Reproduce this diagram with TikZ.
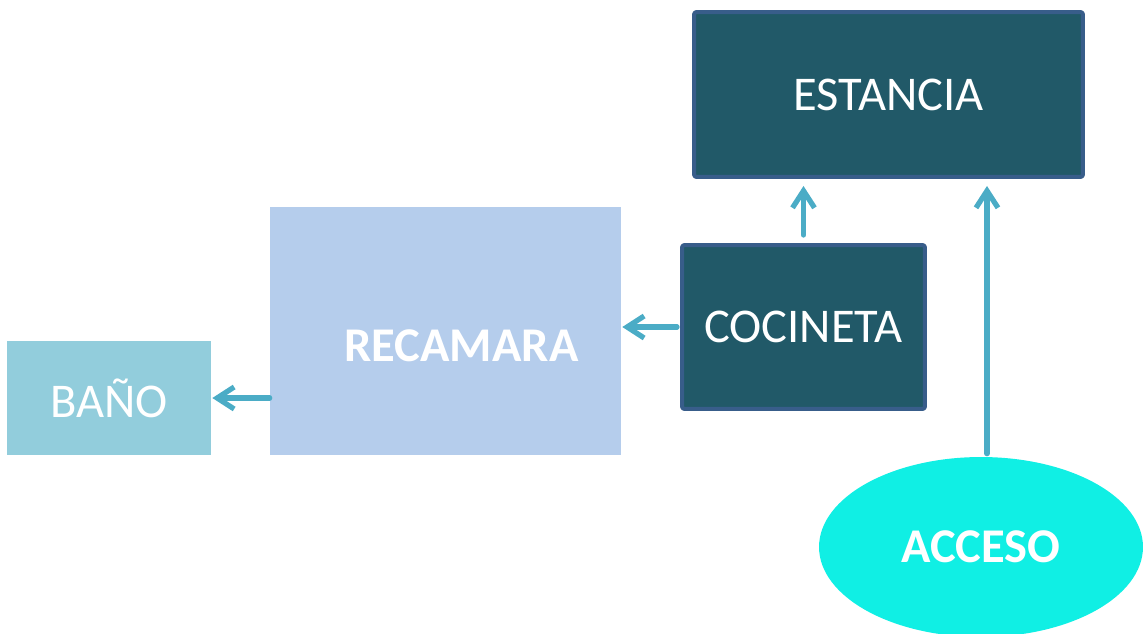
\documentclass[tikz,border=0pt]{standalone}
\usepackage{fontspec}
\setmainfont{Carlito}
\usetikzlibrary{arrows.meta,shapes.geometric}
\definecolor{teal}{HTML}{215968}
\definecolor{borde}{HTML}{385D8A}
\definecolor{azulclaro}{HTML}{B5CDEC}
\definecolor{aqua}{HTML}{92CDDC}
\definecolor{cian}{HTML}{10EFE4}
\definecolor{flechacol}{HTML}{4BACC6}
\tikzset{
  every picture/.style={line join=round,line cap=round},
  cuarto/.style={text=white,font=\fontsize{27.6}{32}\selectfont,inner sep=0pt},
  oscuro/.style={cuarto,fill=teal,draw=borde,line width=0.08cm,rounded corners=0.05cm},
  flecha/.style={draw=flechacol,line width=0.105cm,-{Straight Barb[length=0.34cm,width=0.44cm]}},
}
\begin{document}
\begin{tikzpicture}[x=0.02cm,y=-0.02cm]
\useasboundingbox (0,0) rectangle (1143,633);
\node[oscuro,minimum width=7.78cm,minimum height=3.3cm](estancia) at (888.5,94.5) {ESTANCIA};
\node[oscuro,minimum width=4.86cm,minimum height=3.28cm](cocineta) at (803.5,327) {COCINETA};
\node[cuarto,fill=azulclaro,minimum width=7.02cm,minimum height=4.96cm,
  label={[cuarto,font=\fontsize{27.6}{32}\selectfont\bfseries,xshift=0.32cm,yshift=-0.29cm]center:RECAMARA}](recamara) at (445.5,331) {};
\node[cuarto,fill=aqua,minimum width=4.08cm,minimum height=2.28cm](bano) at (109,398) {BAÑO};
\node[cuarto,ellipse,fill=cian,font=\fontsize{27.6}{32}\selectfont\bfseries,
  minimum width=6.48cm,minimum height=3.6cm](acceso) at (981,547) {ACCESO};
\coordinate (accesotop) at ([xshift=0.12cm]acceso.north);
\draw[flecha,shorten <=0.16cm,shorten >=0.14cm](cocineta.north)--(cocineta.north |- estancia.south);
\draw[flecha,shorten <=0.06cm,shorten >=0.14cm](accesotop)--(accesotop |- estancia.south);
\draw[flecha,shorten <=0.06cm,shorten >=0.02cm](cocineta.west)--(cocineta.west -| recamara.east);
\draw[flecha,shorten >=0.02cm](recamara.west |- bano.east)--(bano.east);
\end{tikzpicture}
\end{document}
